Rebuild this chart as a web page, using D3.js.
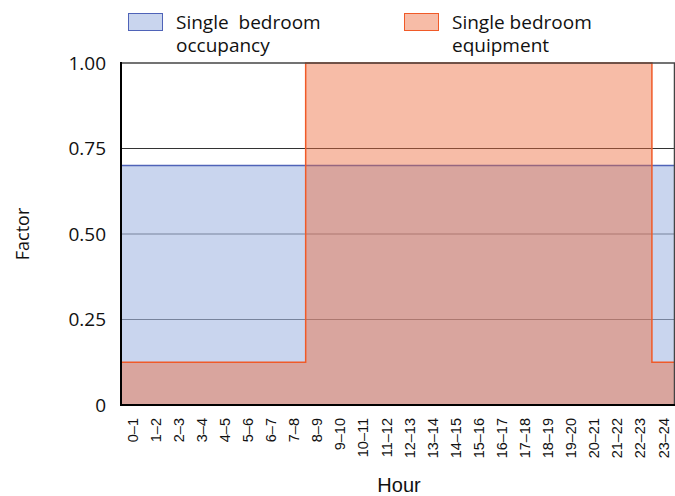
<!DOCTYPE html>
<html lang="en">
<head>
  <meta charset="UTF-8">
  <title>Single bedroom factors</title>
  <script src="https://d3js.org/d3.v7.min.js"></script>
  <style>
    body {
      margin: 0;
      padding: 0;
      background: #fff;
    }
    svg text {
      font-family: "Open Sans", "Noto Sans", sans-serif;
      fill: #111;
    }
    .xtick text, .xlabel {
      font-family: "Liberation Sans", Arial, sans-serif;
    }
  </style>
</head>
<body>
  <svg id="chart" width="675" height="496"></svg>

  <script>
    const hourLabels = ["0–1", "1–2", "2–3", "3–4", "4–5", "5–6", "6–7", "7–8", "8–9", "9–10",
      "10–11", "11–12", "12–13", "13–14", "14–15", "15–16", "16–17", "17–18", "18–19", "19–20",
      "20–21", "21–22", "22–23", "23–24"];

    const occupancy = [0.7, 0.7, 0.7, 0.7, 0.7, 0.7, 0.7, 0.7, 0.7, 0.7, 0.7, 0.7,
      0.7, 0.7, 0.7, 0.7, 0.7, 0.7, 0.7, 0.7, 0.7, 0.7, 0.7, 0.7];

    const equipment = [0.125, 0.125, 0.125, 0.125, 0.125, 0.125, 0.125, 0.125, 1, 1, 1, 1,
      1, 1, 1, 1, 1, 1, 1, 1, 1, 1, 1, 0.125];

    const yTicks = [0, 0.25, 0.5, 0.75, 1];
    const yTickLabels = ["0", "0.25", "0.50", "0.75", "1.00"];

    const seriesNames = [["Single  bedroom", "occupancy"], ["Single bedroom", "equipment"]];

    const svg = d3.select("#chart");
    const margin = { top: 63, right: 0, bottom: 91, left: 121 };
    const width = 675 - margin.left - margin.right;
    const height = 496 - margin.top - margin.bottom;

    const x = d3.scaleLinear().domain([0, hourLabels.length]).range([0, width]);
    const y = d3.scaleLinear().domain([0, 1]).range([height, 0]);

    const g = svg.append("g").attr("transform", `translate(${margin.left},${margin.top})`);

    // gridlines sit under the translucent areas
    g.append("g")
      .selectAll("line")
      .data(yTicks.filter(d => d > 0 && d < 1))
      .join("line")
      .attr("x1", 0).attr("x2", width)
      .attr("y1", d => y(d)).attr("y2", d => y(d))
      .attr("stroke", "#333")
      .attr("stroke-width", 1);

    // step points: one per hour edge, last value repeated at the end
    const toSteps = vals => vals.map((v, i) => [i, v]).concat([[vals.length, vals[vals.length - 1]]]);

    const area = d3.area()
      .x(d => x(d[0]))
      .y0(y(0))
      .y1(d => y(d[1]))
      .curve(d3.curveStepAfter);

    const line = d3.line()
      .x(d => x(d[0]))
      .y(d => y(d[1]))
      .curve(d3.curveStepAfter);

    const series = [
      { values: occupancy, fill: "rgb(165,185,227)", opacity: 0.6, stroke: "#4f63b8" },
      { values: equipment, fill: "rgb(238,107,60)", opacity: 0.45, stroke: "#f05a28" }
    ];

    series.forEach(s => {
      const pts = toSteps(s.values);
      g.append("path")
        .attr("d", area(pts))
        .attr("fill", s.fill)
        .attr("fill-opacity", s.opacity);
      g.append("path")
        .attr("d", line(pts))
        .attr("fill", "none")
        .attr("stroke", s.stroke)
        .attr("stroke-width", 1.5);
    });

    // frame: top and right borders, heavy left and bottom axes
    g.append("line")
      .attr("x1", 0).attr("x2", width).attr("y1", y(1)).attr("y2", y(1))
      .attr("stroke", "#444").attr("stroke-width", 1.5);
    g.append("line")
      .attr("x1", width - 0.5).attr("x2", width - 0.5).attr("y1", y(1)).attr("y2", y(0))
      .attr("stroke", "#444").attr("stroke-width", 1.5);
    g.append("line")
      .attr("x1", 0).attr("x2", 0).attr("y1", y(1) - 1).attr("y2", y(0) + 1)
      .attr("stroke", "#000").attr("stroke-width", 2);
    g.append("line")
      .attr("x1", 0).attr("x2", width).attr("y1", y(0)).attr("y2", y(0))
      .attr("stroke", "#000").attr("stroke-width", 2);

    // y tick labels
    g.append("g")
      .selectAll("text")
      .data(yTicks)
      .join("text")
      .attr("x", -15)
      .attr("y", d => y(d))
      .attr("dy", "0.36em")
      .attr("text-anchor", "end")
      .style("font-size", "19px")
      .text((d, i) => yTickLabels[i]);

    // x tick labels, rotated
    const xt = g.append("g").attr("class", "xtick");
    xt.selectAll("text")
      .data(hourLabels)
      .join("text")
      .attr("transform", (d, i) => `translate(${x(i + 0.5)},${height + 13}) rotate(-90)`)
      .attr("dy", "0.35em")
      .attr("text-anchor", "end")
      .style("font-size", "14.5px")
      .text(d => d);

    svg.append("text")
      .attr("class", "xlabel")
      .attr("x", 399)
      .attr("y", 492)
      .attr("text-anchor", "middle")
      .style("font-size", "20px")
      .text("Hour");

    svg.append("text")
      .attr("transform", "translate(29,234) rotate(-90)")
      .attr("text-anchor", "middle")
      .style("font-size", "18px")
      .text("Factor");

    // legend
    const legendX = [128, 404];
    const legend = svg.append("g");
    series.forEach((s, i) => {
      legend.append("rect")
        .attr("x", legendX[i] + 0.5).attr("y", 13.5)
        .attr("width", 34).attr("height", 17)
        .attr("fill", s.fill).attr("fill-opacity", s.opacity)
        .attr("stroke", s.stroke).attr("stroke-width", 1);
      const t = legend.append("text")
        .attr("x", legendX[i] + 48)
        .attr("y", 29)
        .style("font-size", "19px")
        .style("white-space", "pre");
      seriesNames[i].forEach((txt, j) => {
        t.append("tspan")
          .attr("x", legendX[i] + 48)
          .attr("dy", j === 0 ? 0 : 23)
          .text(txt);
      });
    });
  </script>
</body>
</html>
